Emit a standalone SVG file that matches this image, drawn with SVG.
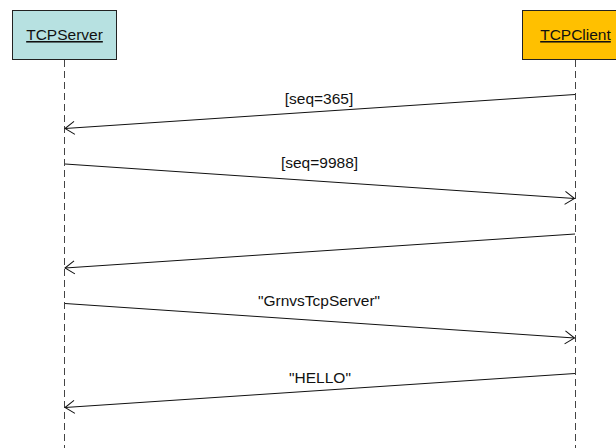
<svg xmlns="http://www.w3.org/2000/svg" width="616" height="448" viewBox="0 0 616 448">
  <style>
    .box { stroke: #222; stroke-width: 1; }
    .name { font-family: "Liberation Sans", Arial, sans-serif; font-size: 15.5px; fill: #111; text-anchor: middle; text-decoration: underline; }
    .life { stroke: #444; stroke-width: 1; stroke-dasharray: 7 4; fill: none; }
    .msg { stroke: #111; stroke-width: 1; fill: none; marker-end: url(#open); }
    .lbl { font-family: "Liberation Sans", Arial, sans-serif; font-size: 15.5px; fill: #111; text-anchor: middle; }
  </style>
  <defs>
    <marker id="open" markerUnits="userSpaceOnUse" markerWidth="20" markerHeight="20" viewBox="-12 -10 14 20" refX="0" refY="0" orient="auto" overflow="visible">
      <path d="M-9.5,-6.5 L0,0 L-9.5,6.5" fill="none" stroke="#111" stroke-width="1"/>
    </marker>
  </defs>
  <rect width="616" height="448" fill="#fff"/>

  <g id="TCPServer">
    <rect class="box" x="12.5" y="10.5" width="104" height="49" fill="#b7e1e1"/>
    <text class="name" x="64.5" y="40">TCPServer</text>
    <line class="life" x1="64.5" y1="60" x2="64.5" y2="448"/>
  </g>

  <g id="TCPClient">
    <rect class="box" x="522.5" y="10.5" width="106" height="49" fill="#ffc000"/>
    <text class="name" x="575.5" y="40">TCPClient</text>
    <line class="life" x1="575.5" y1="60" x2="575.5" y2="448"/>
  </g>

  <g id="messages">
    <line class="msg" x1="575" y1="94.5" x2="65" y2="128.5"/>
    <text class="lbl" x="319" y="104">[seq=365]</text>

    <line class="msg" x1="65" y1="164" x2="574.5" y2="198.5"/>
    <text class="lbl" x="319.5" y="168">[seq=9988]</text>

    <line class="msg" x1="575" y1="234" x2="65" y2="268"/>

    <line class="msg" x1="65" y1="303.5" x2="574.5" y2="338"/>
    <text class="lbl" x="319" y="306">"GrnvsTcpServer"</text>

    <line class="msg" x1="575" y1="373.5" x2="65" y2="407.5"/>
    <text class="lbl" x="320" y="383">"HELLO"</text>
  </g>
</svg>
